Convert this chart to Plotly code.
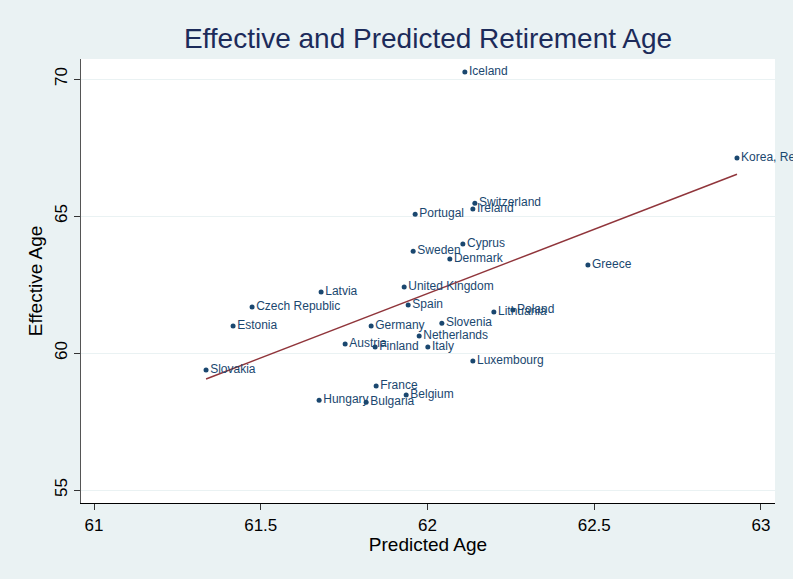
import numpy as np
import plotly.graph_objects as go

countries = ["Iceland", "Korea, Rep.", "Switzerland", "Ireland", "Portugal", "Cyprus",
             "Sweden", "Denmark", "Greece", "United Kingdom", "Latvia", "Czech Republic",
             "Spain", "Lithuania", "Poland", "Estonia", "Germany", "Slovenia",
             "Netherlands", "Austria", "Finland", "Italy", "Luxembourg", "Slovakia",
             "France", "Belgium", "Hungary", "Bulgaria"]
predicted_age = [62.112, 62.928, 62.142, 62.136, 61.963, 62.106,
                 61.957, 62.067, 62.481, 61.930, 61.681, 61.474,
                 61.942, 62.199, 62.256, 61.417, 61.831, 62.043,
                 61.975, 61.753, 61.843, 62.001, 62.136, 61.336,
                 61.846, 61.936, 61.675, 61.816]
effective_age = [70.26, 67.12, 65.47, 65.26, 65.07, 63.98,
                 63.72, 63.43, 63.21, 62.41, 62.23, 61.68,
                 61.75, 61.50, 61.57, 60.99, 60.99, 61.09,
                 60.62, 60.33, 60.22, 60.22, 59.71, 59.38,
                 58.80, 58.47, 58.28, 58.21]

x_ticks = [61, 61.5, 62, 62.5, 63]
y_ticks = [55, 60, 65, 70]

navy = "#1a476f"
title_navy = "#1c2b5a"
maroon = "#90353b"
bg = "#eaf2f3"
font_family = "Liberation Sans, Arial, sans-serif"

# linear fit (Stata lfit)
slope, intercept = np.polyfit(predicted_age, effective_age, 1)
fx = np.array([min(predicted_age), max(predicted_age)])
fy = slope * fx + intercept

fig = go.Figure()
fig.add_trace(go.Scatter(
    x=fx, y=fy, mode="lines", line=dict(color=maroon, width=1.5),
    showlegend=False, cliponaxis=False,
))
fig.add_trace(go.Scatter(
    x=predicted_age, y=effective_age, mode="markers+text",
    text=countries, textposition="middle right",
    textfont=dict(family=font_family, size=12, color=navy),
    marker=dict(color=navy, size=5),
    cliponaxis=False, showlegend=False,
))

fig.update_layout(
    width=793, height=579,
    margin=dict(l=81, r=18, t=59, b=76),
    paper_bgcolor=bg, plot_bgcolor="white",
    font=dict(family=font_family, color="black"),
    title=dict(text="Effective and Predicted Retirement Age",
               font=dict(size=28, color=title_navy),
               x=0.5, xref="paper", xanchor="center",
               y=1 - 38 / 579, yref="container", yanchor="middle"),
    xaxis=dict(range=[60.961, 63.042], tickvals=x_ticks,
               ticktext=[str(t) for t in x_ticks], automargin=False,
               ticks="outside", ticklen=6, tickcolor="#333", showgrid=False,
               showline=True, linecolor="black", linewidth=1.2, zeroline=False,
               tickfont=dict(size=17),
               title=dict(text="Predicted Age", font=dict(size=19), standoff=2)),
    yaxis=dict(range=[54.53, 70.73], tickvals=y_ticks,
               ticktext=[str(t) for t in y_ticks], tickangle=-90, automargin=False,
               ticks="outside", ticklen=6, tickcolor="#333",
               showgrid=True, gridcolor=bg, gridwidth=1.2,
               showline=True, linecolor="#555", linewidth=1.2, zeroline=False,
               tickfont=dict(size=17),
               title=dict(text="Effective Age", font=dict(size=19), standoff=4)),
)

fig.write_html("out.html", config={"displayModeBar": False},
               post_script="document.body.style.margin='0';")
